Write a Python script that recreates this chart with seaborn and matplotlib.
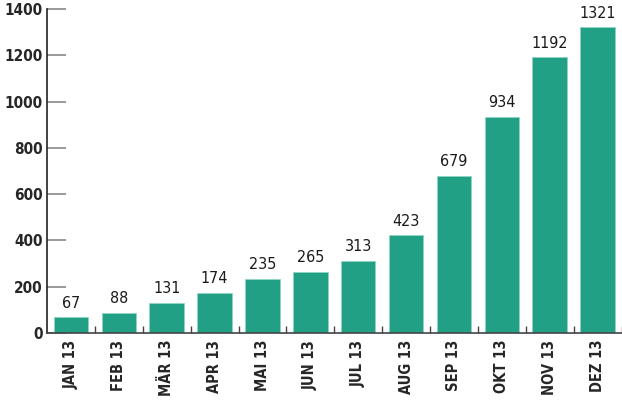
import matplotlib
matplotlib.use("Agg")
import matplotlib.pyplot as plt
import seaborn as sns
import pandas as pd

months = ["JAN 13", "FEB 13", "MÄR 13", "APR 13", "MAI 13", "JUN 13",
          "JUL 13", "AUG 13", "SEP 13", "OKT 13", "NOV 13", "DEZ 13"]
values = [67, 88, 131, 174, 235, 265, 313, 423, 679, 934, 1192, 1321]

df = pd.DataFrame({"month": months, "value": values})

sns.set_style("white")
plt.rcParams["font.family"] = ["DejaVu Sans"]
plt.rcParams["font.stretch"] = "condensed"

fig = plt.figure(figsize=(6.22, 4.03), dpi=100)
ax = fig.add_axes([0.0756, 0.1737, 0.9236, 0.804])

sns.barplot(data=df, x="month", y="value", color="#22a085", width=0.72,
            saturation=1, edgecolor="#8fd4c2", linewidth=0.6, ax=ax)

for i, v in enumerate(values):
    ax.text(i, v + 28, str(v), ha="center", va="bottom", fontsize=11.5,
            color="#1a1a1a", fontstretch="condensed")

ax.set_xlim(-0.5, len(months) - 0.5)
ax.set_ylim(0, 1400)
ax.set_yticks(range(0, 1401, 200))
ax.set_xlabel("")
ax.set_ylabel("")

for lab in ax.get_yticklabels():
    lab.set_fontweight("bold")
    lab.set_fontsize(11)
    lab.set_fontstretch("condensed")
ax.set_xticks(range(len(months)))
ax.set_xticklabels(months, rotation=90, fontweight="bold", fontsize=10.5,
                   fontstretch="condensed")
ax.tick_params(axis="x", which="major", bottom=True, length=0, pad=5)
ax.tick_params(axis="y", left=True, direction="in", length=14, width=1.2,
               color="#888888", pad=3)

# small separators between categories
ax.set_xticks([i + 0.5 for i in range(len(months))], minor=True)
ax.tick_params(axis="x", which="minor", bottom=True, direction="in", length=5,
               width=1, color="#444444")

sns.despine(ax=ax, top=True, right=True)
ax.spines["left"].set_color("#222222")
ax.spines["bottom"].set_color("#444444")
ax.spines["left"].set_linewidth(1.2)
ax.spines["bottom"].set_linewidth(1.2)

fig.savefig("out.png", dpi=100)
